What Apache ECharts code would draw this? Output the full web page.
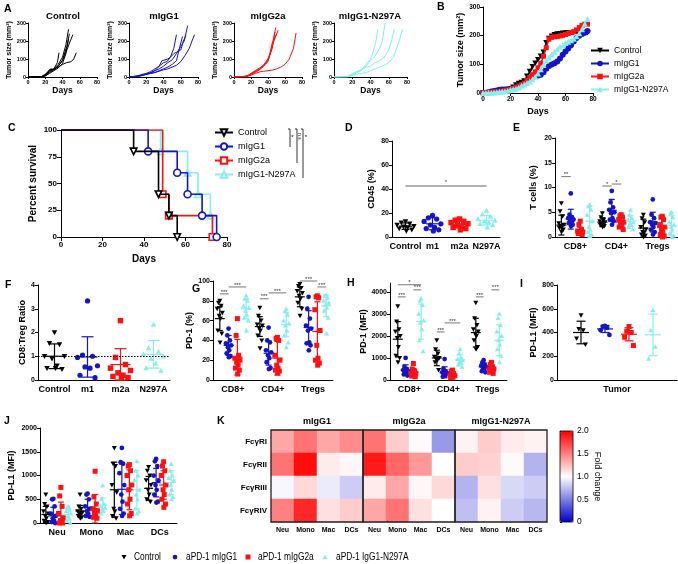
<!DOCTYPE html>
<html><head><meta charset="utf-8">
<script src="https://cdn.jsdelivr.net/npm/echarts@6/dist/echarts.min.js"></script>
<style>html,body{margin:0;padding:0;background:#fff}#c{width:678px;height:564px}</style>
</head><body><div id="c"></div><script>
// ---------------- DATA ----------------
// Panel A: individual tumour growth curves [day, mm2]
const A_titles = ['Control','mIgG1','mIgG2a','mIgG1-N297A'];
const A_ctrl = [
  [[0,0],[10,0],[15,2],[20,10],[25,30],[30,45],[35,70],[40,110],[44,180],[47,265]],
  [[0,0],[15,0],[20,8],[25,25],[30,40],[35,60],[40,90],[45,150],[49,200],[52,235]],
  [[0,0],[15,1],[20,15],[25,40],[30,45],[34,80],[36,135]],
  [[0,0],[15,0],[20,10],[25,35],[30,45],[35,55],[40,70],[45,80],[50,85],[53,100],[56,135]],
  [[0,0],[15,0],[20,5],[25,20],[30,35],[35,50],[40,75],[44,130],[47,210]],
  [[0,0],[18,2],[22,20],[26,45],[30,40],[35,60],[40,95],[45,170],[48,240]]
];
const A_m1 = [
  [[0,0],[10,5],[15,15],[20,18],[25,22],[30,35],[35,60],[38,90],[40,100],[45,100],[48,110],[52,160],[55,235]],
  [[0,0],[10,3],[15,10],[20,15],[25,25],[30,35],[35,45],[40,60],[45,80],[50,95],[55,130],[60,170],[64,200],[68,285]],
  [[0,0],[10,2],[15,8],[20,15],[25,20],[30,25],[35,35],[40,45],[45,55],[50,70],[55,90],[58,150],[62,225]],
  [[0,0],[12,5],[18,12],[25,20],[30,25],[35,32],[40,40],[45,45],[50,55],[55,65],[60,85],[65,120],[70,160],[73,200],[76,235]],
  [[0,0],[15,10],[20,20],[25,30],[30,45],[35,60],[40,80],[44,85],[48,110],[52,130],[56,140],[60,150],[63,200],[66,230]]
];
const A_m2a = [
  [[0,0],[10,2],[15,5],[20,15],[25,25],[30,40],[35,60],[40,90],[45,160],[49,275]],
  [[0,0],[12,3],[18,10],[22,25],[28,35],[32,50],[38,80],[42,120],[47,200],[52,260]],
  [[0,0],[15,2],[20,15],[25,30],[30,45],[35,70],[40,100],[44,150],[48,250]],
  [[0,0],[15,5],[20,20],[25,35],[30,50],[35,65],[40,85],[45,190],[50,240]],
  [[0,0],[15,2],[20,10],[25,20],[30,28],[35,32],[40,35],[45,38],[50,45],[55,55],[60,70],[65,100],[70,160],[73,245]]
];
const A_n297a = [
  [[0,0],[15,2],[20,15],[25,30],[30,40],[35,70],[40,100],[43,140],[46,200],[48,265]],
  [[0,0],[15,3],[20,10],[25,25],[30,35],[35,60],[40,90],[45,115],[50,160],[53,200],[56,300]],
  [[0,0],[15,2],[20,20],[25,30],[30,40],[35,55],[40,60],[45,80],[50,90],[55,110],[60,150],[63,200],[66,265]],
  [[0,0],[15,0],[20,10],[25,15],[30,20],[35,25],[40,35],[45,45],[50,55],[55,65],[60,80],[65,110],[68,150],[72,210],[75,265]]
];
// Panel B: mean tumour size
const B_names = ['Control','mIgG1','mIgG2a','mIgG1-N297A'];
const B_days = [0,2,4,6,8,10,12,14,16,18,20,22,24,26,28,30,32,34,36,38,40,42,44,46,48,50,52,54,56,58,60,62,64,66,68,70,72,74,76];
const B_ctrl = [0,0,0,1,2,3,4,5,7,10,14,20,28,33,37,42,58,75,92,104,116,128,142,175,190,198,203,206,207,208,209,209,210,210,210,210,210,210,210];
const B_m1 = [0,1,3,5,7,9,11,12,12,13,15,17,20,24,28,33,40,48,55,59,61,64,72,85,94,99,104,110,120,133,145,155,167,180,192,200,206,210,216];
const B_m2a = [0,0,1,2,3,4,5,6,8,10,13,16,20,24,29,34,44,54,64,74,88,104,128,158,188,194,196,197,199,201,204,208,211,214,220,228,236,240,240];
const B_n297a = [0,0,1,1,2,3,4,5,6,8,11,13,15,19,25,30,35,40,48,57,68,83,98,113,124,134,144,153,161,167,174,179,184,189,198,208,222,242,258];
// Panel C: survival [day, percent]
const C_ctrl = [[0,100],[35,80],[47,40],[52,20],[56,0]];
const C_m1 = [[0,100],[42,80],[56,60],[61,40],[68,20],[75,0]];
const C_m2a = [[0,100],[49,40],[52,20],[73,0]];
const C_n297a = [[0,100],[48,80],[61,60],[66,40],[72,20],[73,0]];
// Panel D: CD45 (%)
const D_cats = ['Control','m1','m2a','N297A'];
const D_pts = [[13,12,11,10,9,8.5,8,7,6,5],[18,16,15,13,11,10,8,7,6,5],[15,14,13,12,11,10,9,8,7,6],[22,19,17,15,14,13,12,11,10,8]];
const D_mean = [9,11,10.5,14];
const D_sd = [2.7,5,3,4];
// Panel E: T cells (%)  [group][category]
const TC_cats = ['CD8+','CD4+','Tregs'];
const E_pts = [
  [[6.8,5.2,4.2,2.8,2.5,2.2,2,1.8,1.5,1],[4.8,4,3.5,3.2,3,2.8,2.6,2.4,2.2,2],[4.5,3.8,3,2,1.5,1,0.8,0.5,0.3,0]],
  [[8.8,4.5,4,3.8,3.5,3.2,3,2.8,2.5,2.2],[9.3,7,6,5.5,5,4.8,3.8,3.5,3.2,2.5],[7.6,4.5,3.8,3,2.8,2.5,2,1.5,1,0.5]],
  [[3.2,2.5,1.5,1.2,1,0.9,0.8,0.7,0.5],[4.5,4.3,4,3.5,3,2.8,2.5,2,1.5],[4.2,4,3.5,2.5,2,1.5,1,0.5,0.2,0]],
  [[6.5,6.2,5.5,4.5,3.2,2,1.5,1,0.5,0.2],[5.5,4.5,3.8,3.5,3,2.8,2.5,2,1.5],[5,4.8,4,3,2.5,2,1.5,0.8,0.3,0]]
];
const E_mean = [[2.4,3,1.8],[3.6,5.4,3],[1.2,3,1.9],[3.2,3.2,2.3]];
const E_sd = [[2,0.9,1.8],[2,2.2,2],[0.8,1.2,2.2],[3,1.1,2]];
const E_sig = [[0,0,1,12.2,'**'],[1,0,1,10.3,'*'],[1,1,2,10.7,'*']];
// Panel F: CD8:Treg ratio
const F_pts = [[2.0,1.55,1.5,1.0,1.0,0.9,0.6,0.5,0.45,0.5],[3.33,1.05,1.0,0.95,0.6,0.55,0.5,0.2,0.1],[2.5,0.95,0.65,0.5,0.4,0.3,0.2,0.15,0.1,0.1],[2.35,1.35,1.2,1.1,1.0,0.9,0.7,0.5,0.4]];
const F_mean = [1.0,0.97,0.65,1.08];
const F_sd = [0.52,0.85,0.67,0.58];
// Panel G: PD-1 (%)
const G_pts = [
  [[80,78,75,72,68,65,62,50,47,38],[73,65,60,56,55,52,50,45,40,32],[97,95,93,90,88,85,82,78,72,65]],
  [[52,45,40,37,35,33,30,27,24,23],[53,40,38,30,28,25,22,18,12,11],[84,72,62,55,52,50,38,37,35,30]],
  [[62,45,25,22,20,18,15,12,10,6],[43,42,40,25,20,15,12,10,9,7],[85,84,83,71,50,35,22,20,17,15]],
  [[85,82,80,75,73,70,66,63,60,50],[72,70,66,60,57,55,50,45,38,33],[86,85,83,80,78,76,73,70,63,47]]
];
const G_mean = [[62,54,84],[35,27,53],[23,22,49],[72,56,75]];
const G_sd = [[12,10,10],[10,12,17],[18,17,30],[10,12,11]];
const G_sig = [[0,0,1,87,'***'],[0,1,3,94,'***'],[1,0,1,82,'***'],[1,1,3,88,'***'],[2,0,2,100,'***'],[2,2,3,94,'***']];
// Panel H: PD-1 (MFI)
const H_pts = [
  [[3350,2650,2300,2200,2000,1900,1500,1100,1000,800],[1800,1400,1200,1050,1000,950,900,800,450],[3500,2800,2500,2300,2200,2100,2000,1800,1500,1400]],
  [[1000,600,500,450,400,350,300,250,200],[950,500,400,350,300,250,200,150],[900,800,700,650,600,550,500,400,350]],
  [[750,500,400,350,300,250,200,180,150],[450,400,300,250,200,150,120,100],[800,700,600,550,500,450,400,350,300]],
  [[3700,3600,3400,3000,2700,2600,2300,1800,1300],[1400,1200,1000,950,900,850,800,700,600],[3000,2800,2500,2200,2000,1800,1600,1400,1100,800]]
];
const H_mean = [[1850,1000,2150],[450,350,600],[340,220,500],[2650,920,1800]];
const H_sd = [[800,350,650],[240,250,170],[180,120,160],[800,230,700]];
const H_sig = [[0,0,3,4320,'*'],[0,0,1,3770,'***'],[0,2,3,4090,'***'],[1,0,1,2180,'***'],[1,1,3,2590,'***'],[2,0,1,3770,'***'],[2,2,3,4090,'***']];
const H_ticks = [0,1000,2000,3000,4000];
// Panel I: PD-L1 (MFI) tumour
const I_cats = ['Tumor'];
const I_pts = [[545,430,420,350,300],[455,450,440,420,380],[450,410,400,360,290],[590,420,280,180]];
const I_mean = [400,430,385,380];
const I_sd = [95,30,55,175];
// Panel J: PD-L1 (MFI) myeloid
const J_cats = ['Neu','Mono','Mac','DCs'];
const J_pts = [
  [[600,400,350,250,200,150,100,50,20,0],[600,350,300,250,220,200,180,150,120,100],[1580,1250,1200,800,650,300,250,150,100],[1180,1100,1000,900,800,700,600,500,450]],
  [[510,500,350,200,150,100,50,20,0],[620,600,500,350,300,250,200,150,130],[1580,1280,1250,1050,800,600,450,300,200,150],[1350,1300,1200,1000,900,800,700,600,450,430]],
  [[750,570,350,200,100,50,20,0,0],[1090,550,400,300,250,200,150,120,100],[1230,1200,1100,1000,800,700,500,400,200,150],[1290,1200,1100,1000,800,700,600,500,400,330]],
  [[350,320,280,250,200,150,100,50,0],[790,500,400,350,320,300,250,200],[1300,1100,1000,900,700,600,500,300,250,200],[1240,1100,1000,950,900,800,700,600,550,500]]
];
const J_mean = [[180,250,700,730],[150,330,710,850],[150,300,700,800],[180,380,700,850]];
const J_sd = [[170,120,580,250],[180,170,530,300],[290,300,420,300],[120,150,400,250]];
// Panel K: fold change heatmap [receptor][cell]
const K_titles = ['mIgG1','mIgG2a','mIgG1-N297A'];
const K_rows = ['FcγRI','FcγRII','FcγRIII','FcγRIV'];
const K_cols = ['Neu','Mono','Mac','DCs'];
const K_m1 = [[1.35,1.55,1.35,1.45],[1.55,1.95,1.08,1.03],[0.97,1.15,0.92,0.8],[1.5,1.85,1.12,1.2]];
const K_m2a = [[1.55,1.2,1.02,0.6],[1.9,1.6,1.4,1.0],[1.08,1.35,1.03,1.15],[1.35,1.55,1.12,1.0]];
const K_n297a = [[1.05,1.2,1.08,1.05],[1.2,1.18,1.02,0.7],[0.7,1.12,0.85,0.8],[0.75,1.05,0.8,0.72]];
// Bottom legend
const L_names = ['Control','aPD-1 mIgG1','aPD-1 mIgG2a','aPD-1 IgG1-N297A'];

// ---------------- STYLE / HELPERS ----------------
const FONT = "'Liberation Sans', Arial, Helvetica, sans-serif";
const COLORS = ['#000000','#1414c8','#ff1010','#86eeee'];
const SHAPES = ['tri-down','circle','square','tri-up'];
const SYM = ['path://M0,0L10,0L5,9Z','circle','rect','triangle'];
const JIT = [0,-1,1,-2,2,-0.5,0.5,-1.5,1.5,0.2];
const plain = v => String(v);

const grids=[], xAxes=[], yAxes=[], series=[], graphics=[];
function merge(a,b){for(const k in b){const v=b[k];if(v&&typeof v==='object'&&!Array.isArray(v)&&a[k]&&typeof a[k]==='object'&&!Array.isArray(a[k]))merge(a[k],v);else a[k]=v;}return a;}
function addGrid(l,t,w,h){grids.push({left:l,top:t,width:w,height:h,containLabel:false,outerBoundsMode:'none'});return grids.length-1;}
function baseAxis(gi,o){return merge({gridIndex:gi,
  axisLine:{show:true,onZero:false,lineStyle:{color:'#000',width:1}},
  axisTick:{show:true,length:3,inside:false,lineStyle:{color:'#000',width:1}},
  splitLine:{show:false},
  axisLabel:{color:'#000',fontFamily:FONT,fontWeight:'bold',fontSize:7,margin:3,formatter:plain},
  nameLocation:'middle',
  nameTextStyle:{color:'#000',fontFamily:FONT,fontWeight:'bold',fontSize:9}},o);}
function addX(o){xAxes.push(o);return xAxes.length-1;}
function addY(o){yAxes.push(o);return yAxes.length-1;}
function text(x,y,t,o){graphics.push(merge({type:'text',x:x,y:y,z:50,style:{text:t,fill:'#000',fontFamily:FONT,fontSize:9,fontWeight:'bold',align:'left',verticalAlign:'middle'}},o||{}));}
function shapeEl(shape,x,y,color,s){const h=s/2;
  if(shape==='circle')return{type:'circle',shape:{cx:x,cy:y,r:h*0.95},style:{fill:color}};
  if(shape==='square')return{type:'rect',shape:{x:x-h,y:y-h,width:s,height:s},style:{fill:color}};
  if(shape==='tri-up')return{type:'polygon',shape:{points:[[x-h,y+h*0.8],[x+h,y+h*0.8],[x,y-h]]},style:{fill:color}};
  return{type:'polygon',shape:{points:[[x-h,y-h*0.8],[x+h,y-h*0.8],[x,y+h]]},style:{fill:color}};}
function grpOff(api,g,nG,sp){return nG>1?(g-(nG-1)/2)*sp*api.size([1,0])[0]:0;}
function addDots(xi,yi,g,nG,sp,cats,ptsList,means,sds,o){
  const data=[];cats.forEach((c,k)=>ptsList[k].forEach((v,i)=>data.push([c,v,i])));
  series.push({type:'custom',xAxisIndex:xi,yAxisIndex:yi,data:data,clip:false,silent:true,z:3,
    renderItem:function(p,api){const c=api.value(0),v=api.value(1),i=api.value(2);const pt=api.coord([c,v]);
      return shapeEl(SHAPES[g],pt[0]+grpOff(api,g,nG,sp)+JIT[i%JIT.length]*o.jit,pt[1],COLORS[g],o.size);}});
  const eb=cats.map((c,k)=>[c,means[k],sds[k]]);
  series.push({type:'custom',xAxisIndex:xi,yAxisIndex:yi,data:eb,clip:false,silent:true,z:4,
    renderItem:function(p,api){const c=api.value(0),m=api.value(1),sd=api.value(2);
      const pm=api.coord([c,m]);const x=pm[0]+grpOff(api,g,nG,sp);
      const lo=api.coord([c,Math.max(m-sd,0)])[1],hi=api.coord([c,m+sd])[1];
      const st={stroke:COLORS[g],lineWidth:1.2};
      return{type:'group',children:[
        {type:'line',shape:{x1:x,y1:hi,x2:x,y2:lo},style:st},
        {type:'line',shape:{x1:x-o.cap/2,y1:hi,x2:x+o.cap/2,y2:hi},style:st},
        {type:'line',shape:{x1:x-o.cap/2,y1:lo,x2:x+o.cap/2,y2:lo},style:st},
        {type:'line',shape:{x1:x-o.mw/2,y1:pm[1],x2:x+o.mw/2,y2:pm[1]},style:st}]};}});
}
function addSig(xi,yi,sig,nG,sp){
  series.push({type:'custom',xAxisIndex:xi,yAxisIndex:yi,clip:false,silent:true,z:5,
    data:sig.map(s=>[s[0],s[1],s[2],s[3]]),
    renderItem:function(p,api){const c=api.value(0),g1=api.value(1),g2=api.value(2),y=api.value(3);
      const pt=api.coord([c,y]);const x1=pt[0]+grpOff(api,g1,nG,sp),x2=pt[0]+grpOff(api,g2,nG,sp);
      return{type:'group',children:[
        {type:'line',shape:{x1:x1,y1:pt[1],x2:x2,y2:pt[1]},style:{stroke:'#666',lineWidth:0.9}},
        {type:'text',x:(x1+x2)/2,y:pt[1]+1,style:{text:sig[p.dataIndex][4],fill:'#333',fontSize:6,fontFamily:FONT,align:'center',verticalAlign:'bottom'}}]};}});
}

// ---------------- PANEL A ----------------
const A_sets=[A_ctrl,A_m1,A_m2a,A_n297a];
const A_left=[28,129,234,334], A_w=[69,69,68,73], A_cx=[63,164,268,370];
A_sets.forEach((set,k)=>{
  const gi=addGrid(A_left[k],23,A_w[k],54);
  const xi=addX(baseAxis(gi,{type:'value',min:0,max:80,interval:20,name:'Days',nameGap:9,
    axisTick:{length:2},axisLabel:{fontSize:5.5,margin:2},nameTextStyle:{fontSize:8.5}}));
  const yi=addY(baseAxis(gi,{type:'value',min:0,max:300,interval:100,name:'Tumor size (mm²)',nameGap:12,
    axisTick:{length:2},axisLabel:{fontSize:5.5,margin:2},nameTextStyle:{fontSize:7}}));
  set.forEach(curve=>series.push({type:'line',xAxisIndex:xi,yAxisIndex:yi,data:curve,showSymbol:false,symbol:'none',
    lineStyle:{color:COLORS[k]==='#86eeee'?'#7ff0f0':COLORS[k],width:1},silent:true}));
  text(A_cx[k],16,A_titles[k],{style:{align:'center',fontSize:9.5}});
});

// ---------------- PANEL B ----------------
{
  const gi=addGrid(483,7,110,86);
  const xi=addX(baseAxis(gi,{type:'value',min:0,max:80,interval:20,name:'Days',nameGap:14,axisLabel:{fontSize:6.5}}));
  const yi=addY(baseAxis(gi,{type:'value',min:0,max:300,interval:100,name:'Tumor size (mm²)',nameGap:18,axisLabel:{fontSize:6.5}}));
  [B_ctrl,B_m1,B_m2a,B_n297a].forEach((vals,k)=>series.push({type:'line',name:B_names[k],xAxisIndex:xi,yAxisIndex:yi,
    data:B_days.map((d,i)=>[d,vals[i]]),symbol:SYM[k],symbolSize:k===0?[6,5.5]:(k===2?5:6),showSymbol:true,
    itemStyle:{color:COLORS[k]},lineStyle:{color:COLORS[k],width:1.5},silent:true,z:2+k}));
}

// ---------------- PANEL C ----------------
{
  const gi=addGrid(61,130,166,107);
  const xi=addX(baseAxis(gi,{type:'value',min:0,max:80,interval:20,name:'Days',nameGap:17,axisTick:{length:4},
    axisLabel:{fontSize:8,margin:4},nameTextStyle:{fontSize:10}}));
  const yi=addY(baseAxis(gi,{type:'value',min:0,max:100,interval:25,name:'Percent survival',nameGap:23,axisTick:{length:4},
    axisLabel:{fontSize:8,margin:4},nameTextStyle:{fontSize:10}}));
  const names=['Control ','mIgG1 ','mIgG2a ','mIgG1-N297A '];
  const syms=['path://M0,0L10,0L5,9Z','circle','rect','triangle'];
  [C_ctrl,C_m1,C_m2a,C_n297a].forEach((pts,k)=>series.push({type:'line',name:names[k],step:'end',xAxisIndex:xi,yAxisIndex:yi,
    data:pts.map((p,i)=>i===0?{value:p,symbol:'none'}:{value:p}),symbol:syms[k],symbolSize:k===1?7:6.5,showSymbol:true,
    itemStyle:{color:'#fff',borderColor:COLORS[k],borderWidth:1.6},lineStyle:{color:COLORS[k],width:1.6},silent:true,z:2+(3-k)}));
  // significance bracket
  [[290,129,147],[297,129,163],[303,129,178]].forEach(l=>graphics.push({type:'line',shape:{x1:l[0],y1:l[1],x2:l[0],y2:l[2]},style:{stroke:'#000',lineWidth:0.8},z:50}));
  [[290,129],[297,129],[303,129]].forEach(l=>graphics.push({type:'line',shape:{x1:l[0]-2,y1:l[1],x2:l[0],y2:l[1]},style:{stroke:'#000',lineWidth:0.8},z:50}));
  text(292.5,137,'*',{style:{fontSize:6,fontWeight:'normal',align:'center'}});
  text(299.5,137,'n.s.',{rotation:-Math.PI/2,style:{fontSize:4.5,fontWeight:'normal',align:'center'}});
  text(306,137,'*',{style:{fontSize:6,fontWeight:'normal',align:'center'}});
}

// ---------------- PANEL D ----------------
function catAxis(gi,cats,o){return baseAxis(gi,merge({type:'category',data:cats,axisTick:{show:false},
  axisLabel:{fontSize:9,interval:0,margin:5,formatter:null}},o||{}));}
{
  const gi=addGrid(392,141,108,96);
  const xi=addX(catAxis(gi,D_cats));
  const yi=addY(baseAxis(gi,{type:'value',min:0,max:80,interval:20,name:'CD45 (%)',nameGap:16}));
  D_cats.forEach((c,g)=>addDots(xi,yi,g,1,0,[g],[D_pts[g]],[D_mean[g]],[D_sd[g]],{jit:4.2,size:5.5,cap:8,mw:13}));
  series.push({type:'custom',xAxisIndex:xi,yAxisIndex:yi,clip:false,silent:true,z:5,data:[[0,3,42.5]],
    renderItem:function(p,api){const a=api.coord([api.value(0),api.value(2)]),b=api.coord([api.value(1),api.value(2)]);
      return{type:'group',children:[{type:'line',shape:{x1:a[0],y1:a[1],x2:b[0],y2:b[1]},style:{stroke:'#999',lineWidth:1.5}},
        {type:'text',x:(a[0]+b[0])/2,y:a[1]-1,style:{text:'*',fill:'#333',fontSize:6,fontFamily:FONT,align:'center',verticalAlign:'bottom'}}]};}});
}

// ---------------- PANEL E ----------------
{
  const gi=addGrid(555,138,123,99);
  const xi=addX(catAxis(gi,TC_cats));
  const yi=addY(baseAxis(gi,{type:'value',min:0,max:20,interval:5,name:'T cells (%)',nameGap:17}));
  for(let g=0;g<4;g++)addDots(xi,yi,g,4,0.23,[0,1,2],E_pts[g],E_mean[g],E_sd[g],{jit:1.3,size:5,cap:6,mw:10});
  addSig(xi,yi,E_sig,4,0.23);
}

// ---------------- PANEL F ----------------
{
  const gi=addGrid(38,285,132,95);
  const xi=addX(catAxis(gi,D_cats));
  const yi=addY(baseAxis(gi,{type:'value',min:0,max:4,interval:1,name:'CD8:Treg Ratio',nameGap:10}));
  series.push({type:'line',xAxisIndex:xi,yAxisIndex:yi,data:[],silent:true,
    markLine:{symbol:'none',silent:true,label:{show:false},lineStyle:{color:'#000',type:[1.5,1.5],width:1},data:[{yAxis:1}]}});
  D_cats.forEach((c,g)=>addDots(xi,yi,g,1,0,[g],[F_pts[g]],[F_mean[g]],[F_sd[g]],{jit:5,size:5.5,cap:12,mw:20}));
}

// ---------------- PANEL G ----------------
{
  const gi=addGrid(213,281,120,99);
  const xi=addX(catAxis(gi,TC_cats));
  const yi=addY(baseAxis(gi,{type:'value',min:0,max:100,interval:20,name:'PD-1 (%)',nameGap:17}));
  for(let g=0;g<4;g++)addDots(xi,yi,g,4,0.22,[0,1,2],G_pts[g],G_mean[g],G_sd[g],{jit:1.3,size:5,cap:6,mw:10});
  addSig(xi,yi,G_sig,4,0.22);
}

// ---------------- PANEL H ----------------
{
  const gi=addGrid(390,283,117,97);
  const xi=addX(catAxis(gi,TC_cats));
  const yi=addY(baseAxis(gi,{type:'value',min:0,max:4400,interval:1000,name:'PD-1 (MFI)',nameGap:22,
    axisLabel:{customValues:H_ticks},axisTick:{customValues:H_ticks}}));
  for(let g=0;g<4;g++)addDots(xi,yi,g,4,0.2,[0,1,2],H_pts[g],H_mean[g],H_sd[g],{jit:1.2,size:5,cap:6,mw:10});
  addSig(xi,yi,H_sig,4,0.2);
}

// ---------------- PANEL I ----------------
{
  const gi=addGrid(557,285,120,95);
  const xi=addX(catAxis(gi,I_cats));
  const yi=addY(baseAxis(gi,{type:'value',min:0,max:800,interval:200,name:'PD-L1 (MFI)',nameGap:17}));
  for(let g=0;g<4;g++)addDots(xi,yi,g,4,0.2,[0],[I_pts[g]],[I_mean[g]],[I_sd[g]],{jit:2.2,size:5,cap:9,mw:16});
}

// ---------------- PANEL J ----------------
{
  const gi=addGrid(40,428,137,95);
  const xi=addX(catAxis(gi,J_cats));
  const yi=addY(baseAxis(gi,{type:'value',min:0,max:2000,interval:500,name:'PD-L1 (MFI)',nameGap:24}));
  for(let g=0;g<4;g++)addDots(xi,yi,g,4,0.22,[0,1,2,3],J_pts[g],J_mean[g],J_sd[g],{jit:1.2,size:5,cap:6,mw:9});
}

// ---------------- PANEL K ----------------
const heatIdx=[];
[K_m1,K_m2a,K_n297a].forEach((mat,k)=>{
  const left=271+92*k;
  const gi=addGrid(left,430,92,92);
  const xi=addX({gridIndex:gi,type:'category',data:K_cols,axisLine:{show:false},axisTick:{show:false},splitLine:{show:false},
    axisLabel:{color:'#000',fontFamily:FONT,fontWeight:'bold',fontSize:7,margin:5,interval:0}});
  const yi=addY({gridIndex:gi,type:'category',data:K_rows,inverse:true,axisLine:{show:false},axisTick:{show:false},splitLine:{show:false},
    axisLabel:{show:k===0,color:'#000',fontFamily:FONT,fontWeight:'bold',fontSize:8,margin:4,interval:0}});
  const data=[];mat.forEach((row,r)=>row.forEach((v,c)=>data.push([c,r,v])));
  heatIdx.push(series.length);
  series.push({type:'heatmap',xAxisIndex:xi,yAxisIndex:yi,data:data,silent:true,itemStyle:{borderWidth:0},emphasis:{disabled:true}});
  graphics.push({type:'rect',shape:{x:left,y:430,width:92,height:92},style:{fill:'none',stroke:'#222',lineWidth:1.3},z:60});
  text(left+46,422,K_titles[k],{style:{align:'center',fontSize:9}});
});
{
  const gi=addGrid(560,431,13,91);
  addX({gridIndex:gi,type:'value',show:false,min:0,max:1});
  addY({gridIndex:gi,type:'value',position:'right',min:0,max:2,interval:0.5,
    axisLine:{show:false},axisTick:{show:true,length:2,lineStyle:{color:'#000'}},splitLine:{show:false},
    axisLabel:{color:'#000',fontFamily:FONT,fontSize:8.5,margin:4,formatter:v=>v===0?'0':v.toFixed(1)},
    name:'Fold change',nameLocation:'middle',nameRotate:-90,nameGap:20,
    nameTextStyle:{color:'#000',fontFamily:FONT,fontSize:9}});
  graphics.push({type:'rect',shape:{x:560,y:431,width:13,height:91},style:{fill:'none',stroke:'#000',lineWidth:0.8},z:60});
}

// ---------------- LETTERS ----------------
[['A',4,9],['B',437,7],['C',8,128],['D',345,128],['E',513,128],['F',5,285],['G',192,289],['H',347,283],['I',520,284],['J',4,421],['K',217,421]]
  .forEach(l=>text(l[1],l[2],l[0],{style:{fontSize:10.5}}));

// ---------------- BOTTOM LEGEND ----------------
const L_mx=[124,175,248,325], L_tx=[134,186,258,336];
L_names.forEach((n,k)=>{
  const s=shapeEl(SHAPES[k],L_mx[k],557,COLORS[k],5);s.z=50;graphics.push(s);
  graphics.push({type:'text',x:L_tx[k],y:557,z:50,scaleX:0.76,
    style:{text:n,fill:'#000',fontFamily:FONT,fontSize:11,align:'left',verticalAlign:'middle'}});
});

const chart=echarts.init(document.getElementById('c'),null,{renderer:'canvas'});
chart.setOption({
  animation:false,backgroundColor:'#fff',
  grid:grids,xAxis:xAxes,yAxis:yAxes,series:series,graphic:graphics,
  legend:[
    {data:B_names,orient:'vertical',left:590,top:46,itemWidth:18,itemHeight:7,itemGap:4,selectedMode:false,padding:0,
      textStyle:{fontFamily:FONT,fontSize:8.5,color:'#000'}},
    {data:['Control ','mIgG1 ','mIgG2a ','mIgG1-N297A '],orient:'vertical',left:214,top:128,itemWidth:18,itemHeight:8,itemGap:5,selectedMode:false,padding:0,
      textStyle:{fontFamily:FONT,fontSize:9,color:'#000'}}
  ],
  visualMap:{type:'continuous',min:0,max:2,seriesIndex:heatIdx,left:560,top:431,itemWidth:13,itemHeight:91,
    calculable:false,showLabel:false,text:null,padding:0,hoverLink:false,
    inRange:{color:['#0000c8','#ffffff','#ff0000']}}
});
</script></body></html>
